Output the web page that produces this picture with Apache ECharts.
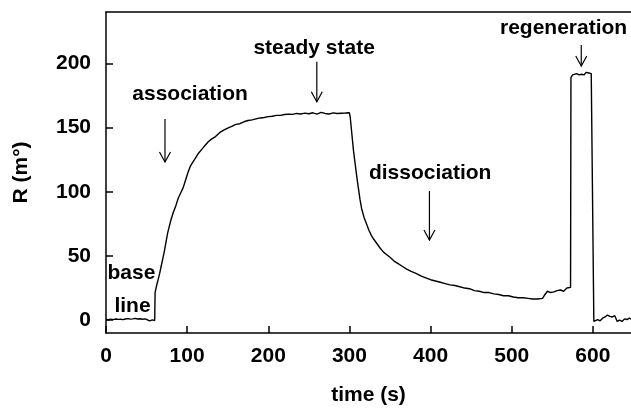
<!DOCTYPE html>
<html>
<head>
<meta charset="utf-8">
<script src="https://cdn.jsdelivr.net/npm/echarts@6/dist/echarts.min.js"></script>
<style>
  html, body { margin: 0; padding: 0; background: #fff; }
  #chart { width: 631px; height: 408px; }
</style>
</head>
<body>
<div id="chart"></div>
<script>
// Sensorgram: time (s) and response R (m°)
const time = [
  0, 3, 6, 9, 12, 15, 18, 21, 24, 27, 30, 33, 36, 39, 42, 45, 48, 51, 54, 57, 60, 60.5,
  62, 64, 66, 68, 70, 72, 74, 76, 78, 80, 83, 86, 89, 92, 95, 98, 101, 104, 107, 110,
  114, 118, 122, 126, 130, 135, 140, 145, 150, 155, 160, 165, 170, 175, 180, 185, 190,
  195, 200, 205, 210, 215, 220, 225, 230, 235, 240, 245, 250, 255, 260, 265, 270, 275,
  280, 285, 290, 295, 300,
  301, 303, 305, 307, 309, 311, 313, 315, 318, 321, 324, 327, 330, 334, 338, 342, 346,
  350, 355, 360, 365, 370, 376, 382, 388, 394, 400, 406, 412, 418, 424, 430, 436, 442,
  448, 454, 460, 466, 472, 478, 484, 490, 496, 502, 508, 514, 520, 526, 532, 538, 541,
  544, 548, 552, 556, 560, 564, 568, 572.5,
  573, 575, 577, 580, 583, 586, 589, 592, 595, 598, 600, 601.2,
  603, 606, 609, 612, 615, 618, 621, 624, 627, 629, 630, 633, 636, 639, 642, 645, 647
];
const response = [
  0.5, 0.3, 0.8, 0.4, 0.9, 0.6, 0.7, 0.4, 0.9, 1.2, 0.8, 1.0, 1.4, 0.9, 1.1, 0.7, 1.0, 0.3, -0.5, 0.2, -0.3, 21.5,
  26, 31, 36, 42, 48, 54, 61, 68, 73, 78, 84, 89, 95, 99, 103, 109, 115, 120, 123, 126,
  130, 133, 136, 139, 141, 143, 146, 148, 149.5, 151, 152.5, 153, 154.5, 155.5, 156, 156.8, 157.5,
  157.8, 158.5, 158.8, 159.5, 159.5, 160.2, 160.5, 160.3, 161, 160.6, 161.2, 160.8, 161.5, 160.5, 161.8, 161, 160.6,
  161.4, 161, 161.2, 161.3, 161.5,
  158, 145, 132, 122, 112, 103, 94, 87, 80, 75, 70, 66, 63, 59.5, 56, 53, 51,
  49, 46, 44, 42, 40, 38, 36.5, 34.5, 33, 31.5, 30.5, 29.5, 28.5, 27.5, 27, 26, 25,
  24.5, 23, 22.5, 21.5, 21.5, 20.5, 20, 19, 19, 18, 17.5, 17.5, 17, 16.5, 16.5, 17, 20,
  22.5, 21.5, 22, 23, 23.5, 22.5, 25, 25.5,
  189, 191, 190.5, 192, 191, 191.5, 191, 193, 192.5, 192, 191, -1,
  -1.5, 0.5, -0.5, 1.5, 2.5, 4, 3, 2.5, 3.5, 2.5, -1, 0, -1, 1, 0.5, 1.5, 0.8
];

const xTicks = [0, 100, 200, 300, 400, 500, 600];
const yTicks = [0, 50, 100, 150, 200];

// Phase labels, positioned in data coordinates
const phaseLabels = ['association', 'steady state', 'dissociation', 'regeneration', 'base', 'line'];
const phaseLabelX = [103.6, 256.5, 399.5, 563.9, 31.4, 32.7];
const phaseLabelY = [175.7, 211.7, 114.4, 227.3, 36.4, 10.9];

// Downward arrows: x, top y, bottom y
const arrowX = [72.7, 259.8, 398.6, 585.7];
const arrowTop = [156.7, 201.3, 100.6, 214.3];
const arrowBottom = [123.2, 170.1, 62.4, 197.9];

const FONT = '"Liberation Sans", Arial, sans-serif';
const X_MIN = 0, X_MAX = 647, Y_MIN = -10, Y_MAX = 240;

const chart = echarts.init(document.getElementById('chart'), null, { renderer: 'canvas' });

const axisText = { color: '#000', fontFamily: FONT, fontWeight: 'bold', fontSize: 21 };

chart.setOption({
  animation: false,
  backgroundColor: '#fff',
  grid: { left: 106, right: 0, top: 12, bottom: 75, containLabel: false, outerBoundsMode: 'none' },
  xAxis: [
    {
      type: 'value', min: X_MIN, max: X_MAX,
      name: 'time (s)', nameLocation: 'middle', nameGap: 52,
      nameTextStyle: axisText,
      axisLine: { show: true, onZero: false, lineStyle: { color: '#000', width: 1.5 } },
      axisTick: { show: true, inside: true, length: 7, customValues: xTicks, lineStyle: { color: '#000', width: 1.5 } },
      axisLabel: { customValues: xTicks, margin: 13, ...axisText },
      splitLine: { show: false }
    },
    {
      type: 'value', min: X_MIN, max: X_MAX, position: 'top',
      axisLine: { show: true, onZero: false, lineStyle: { color: '#000', width: 1.5 } },
      axisTick: { show: false }, axisLabel: { show: false }, splitLine: { show: false }
    }
  ],
  yAxis: {
    type: 'value', min: Y_MIN, max: Y_MAX,
    name: 'R (m°)', nameLocation: 'middle', nameGap: 74, nameRotate: 90,
    nameTextStyle: axisText,
    axisLine: { show: true, onZero: false, lineStyle: { color: '#000', width: 1.5 } },
    axisTick: { show: true, inside: true, length: 7, customValues: yTicks, lineStyle: { color: '#000', width: 1.5 } },
    axisLabel: { customValues: yTicks, margin: 15, ...axisText },
    splitLine: { show: false }
  },
  series: [{
    type: 'line',
    xAxisIndex: 0,
    data: time.map((t, i) => [t, response[i]]),
    showSymbol: false,
    lineStyle: { color: '#000', width: 1.4 },
    clip: true
  }]
});

// Annotations placed through the grid's coordinate system
const graphics = [];
phaseLabels.forEach((txt, i) => {
  const p = chart.convertToPixel({ gridIndex: 0 }, [phaseLabelX[i], phaseLabelY[i]]);
  graphics.push({
    type: 'text', x: p[0], y: p[1],
    style: { text: txt, fill: '#000', font: 'bold 21px ' + FONT, align: 'center', verticalAlign: 'middle' }
  });
});
arrowX.forEach((ax, i) => {
  const top = chart.convertToPixel({ gridIndex: 0 }, [ax, arrowTop[i]]);
  const bot = chart.convertToPixel({ gridIndex: 0 }, [ax, arrowBottom[i]]);
  graphics.push({
    type: 'line',
    shape: { x1: top[0], y1: top[1], x2: bot[0], y2: bot[1] },
    style: { stroke: '#000', lineWidth: 1.2 }
  });
  graphics.push({
    type: 'polyline',
    shape: { points: [[bot[0] - 5.5, bot[1] - 10], [bot[0], bot[1]], [bot[0] + 5.5, bot[1] - 10]] },
    style: { stroke: '#000', lineWidth: 1.2, fill: null }
  });
});
chart.setOption({ graphic: graphics });
</script>
</body>
</html>
